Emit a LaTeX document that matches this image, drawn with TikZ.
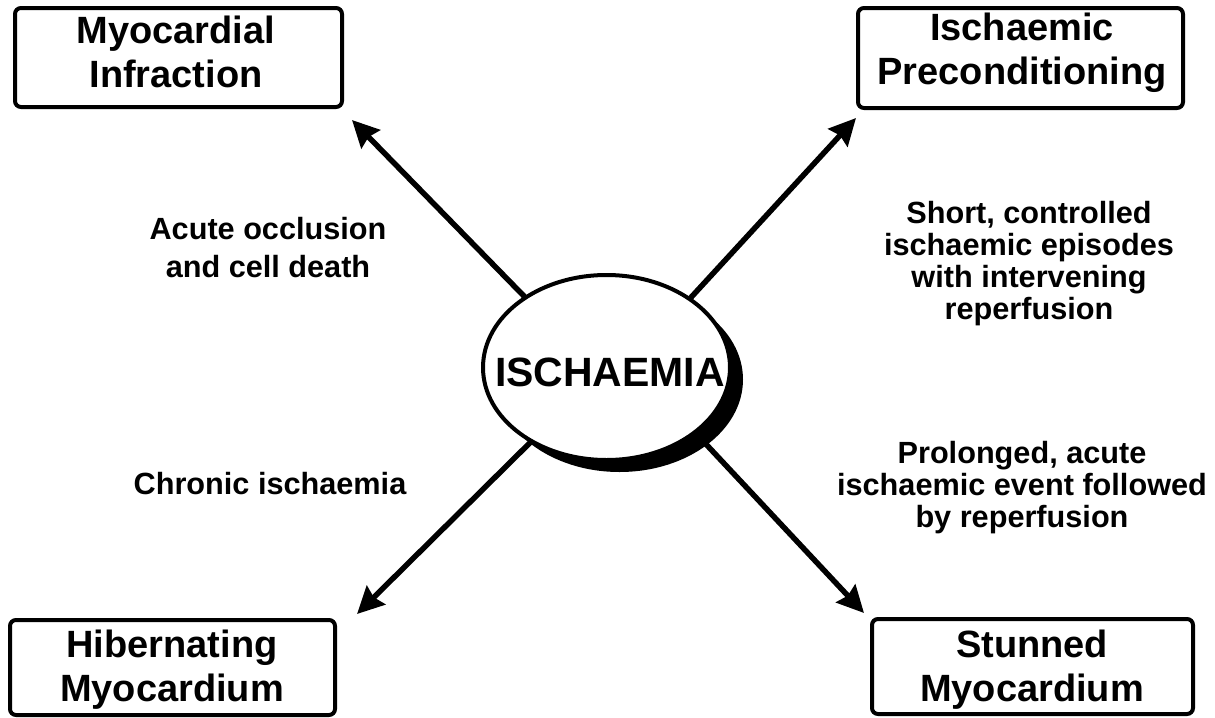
\documentclass[tikz,border=0pt]{standalone}
\usepackage{fontspec}
\setmainfont{Liberation Sans}
\usetikzlibrary{shapes.geometric,arrows.meta}
\newdimen\unitpx \unitpx=0.75pt
\begin{document}
\begin{tikzpicture}[x=0.75pt,y=-0.75pt,
  box/.style={draw, line width=4\unitpx, rounded corners=6\unitpx, inner sep=0pt},
  boxtext/.style={align=center, inner sep=0pt, font=\bfseries\fontsize{28.5}{33}\selectfont},
  lbl/.style={align=center, inner sep=0pt, font=\bfseries\fontsize{23}{28.5}\selectfont},
  lblr/.style={align=center, inner sep=0pt, font=\bfseries\fontsize{23}{24}\selectfont},
  arr/.style={line width=5.5\unitpx, -{Stealth[length=20pt, width=19.5pt, inset=2.25pt]}},
  shadow/.style={ellipse, fill=black, minimum width=247\unitpx, minimum height=185\unitpx, inner sep=0pt},
  hub/.style={ellipse, draw, fill=white, line width=4\unitpx, minimum width=247\unitpx, minimum height=185\unitpx, inner sep=0pt},
  hubtext/.style={inner sep=0pt, font=\bfseries\fontsize{30.7}{32}\selectfont}]
\useasboundingbox (0,0) rectangle (1215,718);

% boxes
\node[box, minimum width=327\unitpx, minimum height=99\unitpx] (mi) at (178.5,57.5) {};
\node[box, minimum width=325\unitpx, minimum height=100\unitpx] (ip) at (1020.5,58) {};
\node[box, minimum width=325\unitpx, minimum height=95\unitpx] (hm) at (172.5,667.5) {};
\node[box, minimum width=321\unitpx, minimum height=95\unitpx] (sm) at (1032.5,666.5) {};
\node[boxtext] (mit) at (176,52) {Myocardial\\Infraction};
\node[boxtext] (ipt) at (1022,53) {Ischaemic\\Preconditioning};
\node[boxtext] (hmt) at (172,670) {Hibernating\\Myocardium};
\node[boxtext] (smt) at (1032,670) {Stunned\\Myocardium};

% labels
\node[lbl] (l1) at (268,248) {Acute occlusion\\and cell death};
\node[lblr] (l2) at (1029,264) {Short, controlled\\ischaemic episodes\\with intervening\\reperfusion};
\node[lbl] (l3) at (270,484) {Chronic ischaemia};
\node[lblr] (l4) at (1022,488) {Prolonged, acute\\ischaemic event followed\\by reperfusion};

% arrow ends
\coordinate (sTL) at (560,333);
\coordinate (sTR) at (650,342);
\coordinate (sBL) at (560,413);
\coordinate (sBR) at (660,395);
\coordinate (tTL) at (352,120);
\coordinate (tTR) at (856,118);
\coordinate (tBL) at (357,614);
\coordinate (tBR) at (864,613);

\draw[arr] (sTL) -- (tTL);
\draw[arr] (sTR) -- (tTR);
\draw[arr] (sBL) -- (tBL);
\draw[arr] (sBR) -- (tBR);

% central ellipse
\node[shadow] (sh) at (619.5,379.5) {};
\node[hub] (isch) at (606.5,367.5) {};
\node[hubtext] (ischt) at (610,372) {ISCHAEMIA};
\end{tikzpicture}
\end{document}
